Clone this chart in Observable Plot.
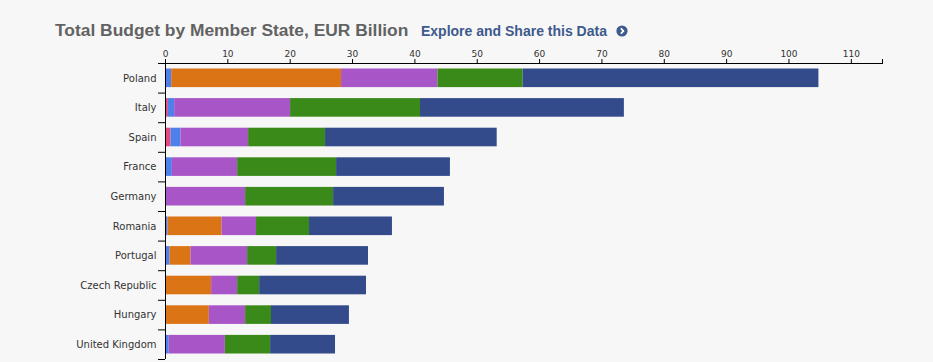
<!DOCTYPE html>
<html><head><meta charset="utf-8">
<script src="https://cdn.jsdelivr.net/npm/d3@7"></script>
<script src="https://cdn.jsdelivr.net/npm/@observablehq/plot@0.6"></script>
<style>
html,body{margin:0;padding:0;background:#f7f7f7;}
body{width:933px;height:362px;overflow:hidden;position:relative;}
#head{height:39px;position:relative;}
#title{position:absolute;left:55px;top:22px;line-height:17px;font-family:"Liberation Sans",Arial,sans-serif;font-weight:bold;font-size:17.4px;color:#626262;white-space:nowrap;}
#link{position:absolute;left:421px;top:24px;line-height:14px;font-family:"Liberation Sans",Arial,sans-serif;font-weight:bold;font-size:14px;color:#3d5a8c;white-space:nowrap;}
#icon{position:absolute;left:616px;top:25px;}
</style></head><body>
<div id="head">
  <span id="title">Total Budget by Member State, EUR Billion</span>
  <span id="link">Explore and Share this Data</span>
  <svg id="icon" width="12" height="12" viewBox="0 0 12 12"><circle cx="6" cy="6" r="5.6" fill="#3d5a8c"/><path d="M4.8 3.3 L7.4 6 L4.8 8.7" fill="none" stroke="#fff" stroke-width="1.8"/></svg>
</div>
<div id="chart"></div>
<script>
const countries = ["Poland","Italy","Spain","France","Germany","Romania","Portugal","Czech Republic","Hungary","United Kingdom"];
const seriesNames = ["YEI","EMFF","CF","ESF","EAFRD","ERDF"];
const seriesColors = ["#e2497d","#4d80ea","#db7414","#a855c7","#398a18","#344b8b"];
const yei   = [0,    0.46, 0.88, 0,    0,     0,    0,    0,    0,    0];
const emff  = [0.99, 1.01, 1.60, 1.10, 0,     0.41, 0.73, 0,    0,    0.60];
const cf    = [27.25,0,    0,    0,    0,     8.65, 3.36, 7.40, 7.03, 0];
const esf   = [15.46,18.59,10.85,10.47,12.85, 5.54, 9.08, 4.17, 5.82, 9.00];
const eafrd = [13.66,20.84,12.34,15.87,14.11, 8.50, 4.65, 3.53, 4.15, 7.26];
const erdf  = [47.44,32.70,27.53,18.26,17.78,13.30,14.74,17.14,12.50,10.41];
const xTicks = [0,10,20,30,40,50,60,70,80,90,100,110];
const xMax = 115;

const seriesValues = [yei, emff, cf, esf, eafrd, erdf];
const table = [];
seriesNames.forEach((s, si) => countries.forEach((c, ci) => table.push({country: c, series: s, value: seriesValues[si][ci]})));

const W = 933, H = 322, mTop = 24, mBottom = 2, mLeft = 165, mRight = 51;
const bw = (H - mTop - mBottom) / countries.length;

const chart = Plot.plot({
  width: W, height: H,
  marginTop: mTop, marginBottom: mBottom, marginLeft: mLeft, marginRight: mRight,
  style: {background: "transparent", fontFamily: "'DejaVu Sans', Verdana, sans-serif", color: "#333", overflow: "visible"},
  x: {domain: [0, xMax]},
  y: {domain: countries, padding: 0, round: false},
  color: {domain: seriesNames, range: seriesColors},
  marks: [
    Plot.barX(table, {x: "value", y: "country", fill: "series", insetTop: 5.5, insetBottom: 5.5}),
    Plot.ruleX([0], {stroke: "#000"}),
    Plot.frame({anchor: "top", stroke: "#000"}),
    Plot.axisX({anchor: "top", ticks: xTicks, tickSize: 5, tickPadding: 2, fontSize: 9, label: null, stroke: "#000", fill: "#333"}),
    Plot.axisX({anchor: "top", ticks: [xMax], tickSize: 5, tickFormat: () => "", label: null, stroke: "#000"}),
    Plot.axisY({ticks: countries, tickSize: 7, dy: -bw / 2, tickFormat: () => "", label: null, stroke: "#000"}),
    Plot.axisY({ticks: [countries[countries.length - 1]], tickSize: 7, dy: bw / 2, tickFormat: () => "", label: null, stroke: "#000"}),
    Plot.axisY({tickSize: 0, tickPadding: 9, fontSize: 10, label: null, fill: "#333"})
  ]
});
document.getElementById("chart").append(chart);
</script>
</body></html>
